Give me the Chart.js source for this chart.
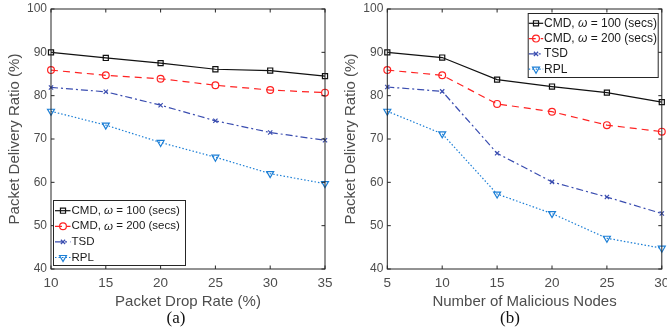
<!DOCTYPE html>
<html>
<head>
<meta charset="utf-8">
<script src="https://cdn.jsdelivr.net/npm/chart.js@4.4.0/dist/chart.umd.min.js"></script>
<style>
  html, body { margin: 0; padding: 0; background: #fff; }
  #wrap { position: relative; width: 667px; height: 334px; overflow: hidden; }
  .panel { position: absolute; top: 0; height: 334px; }
  .cap {
    position: absolute;
    font-family: "Liberation Serif", "Times New Roman", serif;
    font-size: 17px;
    color: #111;
    transform: translate(-50%, -50%);
  }
</style>
</head>
<body>
<div id="wrap">
  <div class="panel" style="left:0;width:333px"><canvas id="chartA"></canvas></div>
  <div class="panel" style="left:333px;width:334px"><canvas id="chartB"></canvas></div>
  <div class="cap" style="left:176px;top:318px">(a)</div>
  <div class="cap" style="left:510px;top:318px">(b)</div>
</div>
<script>
// --- data ---
const seriesLabels = [
  "CMD, ω = 100 (secs)",
  "CMD, ω = 200 (secs)",
  "TSD",
  "RPL",
];
const yTicks = [40, 50, 60, 70, 80, 90, 100];

// (a) packet drop rate
const dropRate = [10, 15, 20, 25, 30, 35];
const aCmd100 = [90.0, 88.7, 87.5, 86.1, 85.8, 84.5];
const aCmd200 = [85.9, 84.7, 83.9, 82.4, 81.3, 80.7];
const aTsd = [81.9, 80.9, 77.8, 74.2, 71.5, 69.7];
const aRpl = [76.4, 73.2, 69.2, 65.8, 62.0, 59.7];

// (b) number of malicious nodes
const maliciousNodes = [5, 10, 15, 20, 25, 30];
const bCmd100 = [90.0, 88.8, 83.7, 82.1, 80.7, 78.5];
const bCmd200 = [85.9, 84.7, 78.1, 76.3, 73.2, 71.7];
const bTsd = [82.0, 81.0, 66.7, 60.1, 56.6, 52.8];
const bRpl = [76.4, 71.2, 57.3, 52.8, 47.1, 44.8];

// --- styles ---
const seriesStyle = [
  { color: "#111111", dash: [], point: "rect", radius: 3.6, rotation: 0 },
  { color: "#ff2222", dash: [7, 5], point: "circle", radius: 3.4, rotation: 0 },
  { color: "#3a4db0", dash: [7, 3, 2, 3], point: "crossRot", radius: 3, rotation: 0 },
  { color: "#1c7fd6", dash: [1.5, 2], point: "triangle", radius: 4, rotation: 180 },
];

const GREY = "#4d4d4d";
const AXIS = "#262626";
const FONT = "'Liberation Sans', Arial, sans-serif";

function makeDatasets(xs, series) {
  return series.map((vals, i) => {
    const s = seriesStyle[i];
    return {
      label: seriesLabels[i],
      data: xs.map((x, k) => ({ x: x, y: vals[k] })),
      borderColor: s.color,
      borderWidth: 1.2,
      borderDash: s.dash,
      pointStyle: s.point,
      pointRotation: s.rotation,
      pointRadius: s.radius,
      pointBorderWidth: 1.2,
      pointBorderColor: s.color,
      pointBackgroundColor: "rgba(0,0,0,0)",
      fill: false,
      tension: 0,
      clip: false,
    };
  });
}

// box round the plot with inner tick marks (MATLAB look)
const boxTicks = {
  id: "boxTicks",
  afterDatasetsDraw(chart) {
    const { ctx, chartArea: a, scales } = chart;
    const len = 3.5;
    ctx.save();
    ctx.strokeStyle = AXIS;
    ctx.lineWidth = 1;
    ctx.strokeRect(a.left, a.top, a.right - a.left, a.bottom - a.top);
    ctx.beginPath();
    scales.x.ticks.forEach((t) => {
      const px = scales.x.getPixelForValue(t.value);
      ctx.moveTo(px, a.bottom);
      ctx.lineTo(px, a.bottom - len);
      ctx.moveTo(px, a.top);
      ctx.lineTo(px, a.top + len);
    });
    scales.y.ticks.forEach((t) => {
      const py = scales.y.getPixelForValue(t.value);
      ctx.moveTo(a.left, py);
      ctx.lineTo(a.left + len, py);
      ctx.moveTo(a.right, py);
      ctx.lineTo(a.right - len, py);
    });
    ctx.stroke();
    ctx.restore();
  },
};

// legend box drawn inside the plot
const boxLegend = {
  id: "boxLegend",
  afterDraw(chart, args, o) {
    const ctx = chart.ctx;
    ctx.save();
    ctx.fillStyle = "#fff";
    ctx.fillRect(o.x, o.y, o.w, o.h);
    ctx.strokeStyle = AXIS;
    ctx.lineWidth = 1;
    ctx.strokeRect(o.x + 0.5, o.y + 0.5, o.w, o.h);

    chart.data.datasets.forEach((ds, i) => {
      const y = o.y + o.rowTop + i * o.rowGap;
      ctx.strokeStyle = ds.borderColor;
      ctx.lineWidth = ds.borderWidth;
      ctx.setLineDash(ds.borderDash);
      ctx.beginPath();
      ctx.moveTo(o.x + o.lx0, y);
      ctx.lineTo(o.x + o.lx1, y);
      ctx.stroke();
      ctx.setLineDash([]);

      ctx.fillStyle = "rgba(0,0,0,0)";
      ctx.lineWidth = ds.pointBorderWidth;
      Chart.helpers.drawPoint(ctx, {
        pointStyle: ds.pointStyle,
        rotation: ds.pointRotation,
        radius: ds.pointRadius,
        borderWidth: ds.pointBorderWidth,
      }, o.x + o.mx, y);

      // text, with italic omega
      ctx.fillStyle = "#1a1a1a";
      ctx.textBaseline = "middle";
      ctx.textAlign = "left";
      const plain = o.fontSize + "px " + FONT;
      const ital = "italic " + plain;
      const parts = ds.label.split("ω");
      let tx = o.x + o.tx;
      ctx.font = plain;
      ctx.fillText(parts[0], tx, y);
      tx += ctx.measureText(parts[0]).width;
      if (parts.length > 1) {
        ctx.font = ital;
        ctx.fillText("ω", tx, y);
        tx += ctx.measureText("ω").width;
        ctx.font = plain;
        ctx.fillText(parts[1], tx, y);
      }
    });
    ctx.restore();
  },
};

function makeChart(id, xs, series, xTitle, xMin, xMax, yWidth, yTitlePad, padRight, legendOpts) {
  return new Chart(document.getElementById(id), {
    type: "line",
    data: { datasets: makeDatasets(xs, series) },
    options: {
      responsive: true,
      maintainAspectRatio: false,
      animation: false,
      layout: { padding: { top: 9, right: padRight, bottom: 0, left: 0 } },
      scales: {
        x: {
          type: "linear",
          min: xMin,
          max: xMax,
          grid: { display: false, drawTicks: false, tickLength: 0 },
          border: { display: false },
          ticks: {
            stepSize: 5,
            padding: 6,
            color: GREY,
            font: { family: FONT, size: 13.5 },
          },
          title: {
            display: true,
            text: xTitle,
            color: GREY,
            padding: { top: 0, bottom: 23 },
            font: { family: FONT, size: 15 },
          },
          afterFit: (scale) => {
            scale.height = 65;
            scale.paddingLeft = 0;
            scale.paddingRight = 0;
          },
        },
        y: {
          min: 40,
          max: 100,
          grid: { display: false, drawTicks: false, tickLength: 0 },
          border: { display: false },
          afterBuildTicks: (scale) => {
            scale.ticks = yTicks.map((v) => ({ value: v }));
          },
          ticks: {
            padding: 4,
            color: GREY,
            font: { family: FONT, size: 12 },
          },
          title: {
            display: true,
            text: "Packet Delivery Ratio (%)",
            color: GREY,
            padding: { top: yTitlePad, bottom: 0 },
            font: { family: FONT, size: 15 },
          },
          afterFit: (scale) => {
            scale.width = yWidth;
            scale.paddingTop = 0;
            scale.paddingBottom = 0;
          },
        },
      },
      plugins: {
        legend: { display: false },
        tooltip: { enabled: false },
        boxLegend: legendOpts,
      },
    },
    plugins: [boxTicks, boxLegend],
  });
}

makeChart("chartA", dropRate, [aCmd100, aCmd200, aTsd, aRpl],
  "Packet Drop Rate (%)", 10, 35, 51, 6, 8,
  { x: 53, y: 200, w: 132, h: 65, rowTop: 10.7, rowGap: 15.6,
    lx0: 2, lx1: 17.5, mx: 10, tx: 18.5, fontSize: 11.5 });

makeChart("chartB", maliciousNodes, [bCmd100, bCmd200, bTsd, bRpl],
  "Number of Malicious Nodes", 5, 30, 54.3, 8.7, 1,
  { x: 527.7 - 333, y: 13, w: 130, h: 64, rowTop: 10.3, rowGap: 15.3,
    lx0: 1, lx1: 15.5, mx: 8.3, tx: 16.3, fontSize: 12 });
</script>
</body>
</html>
